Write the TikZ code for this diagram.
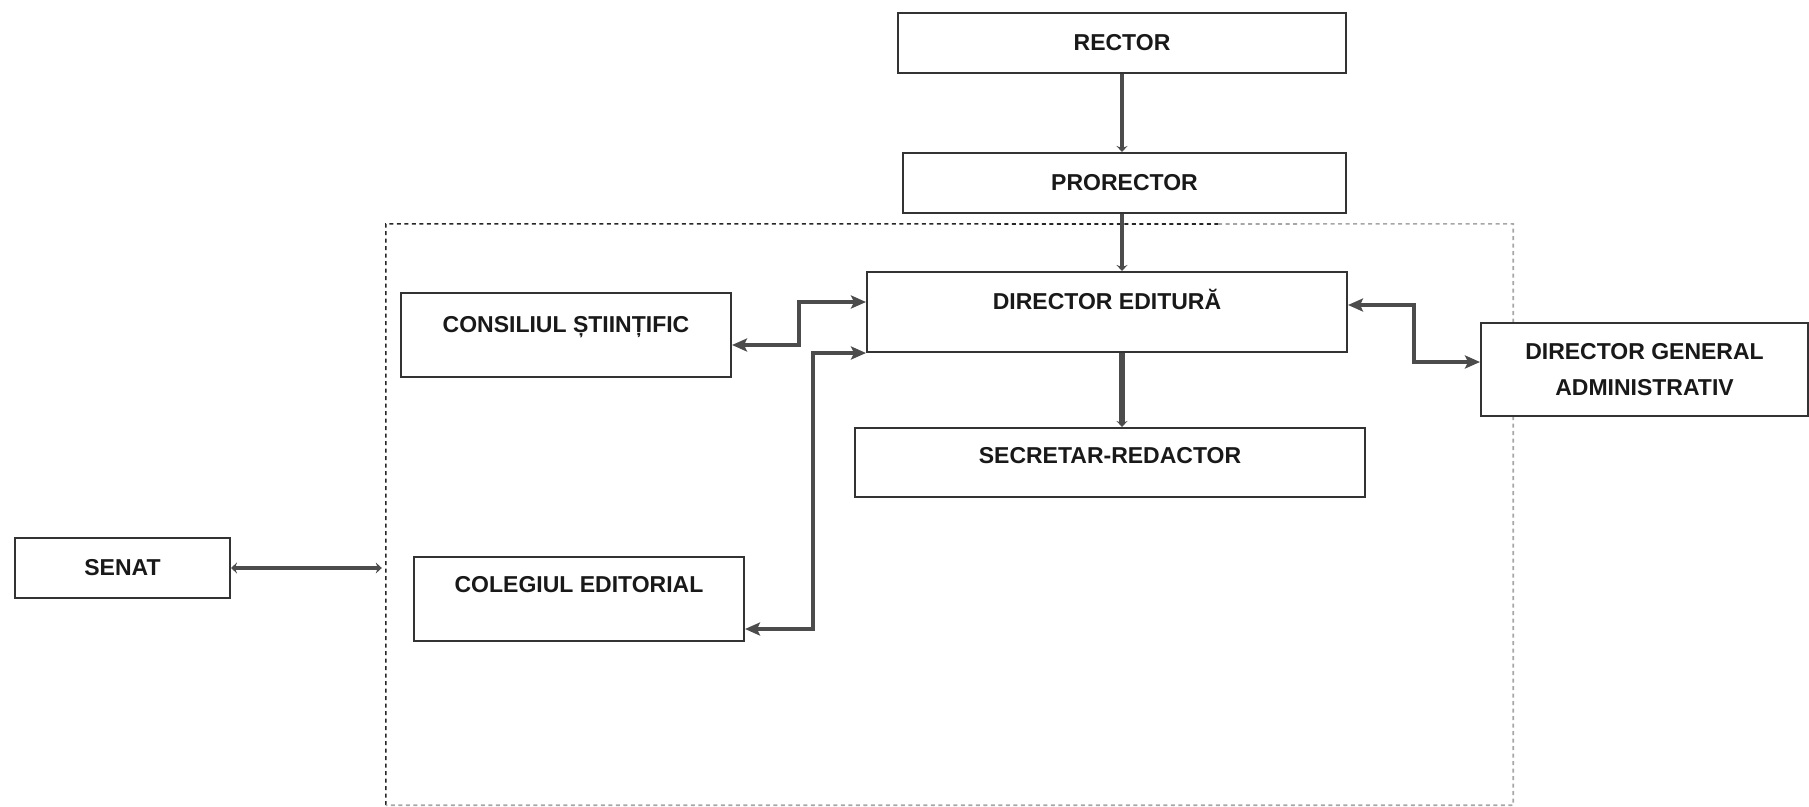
\documentclass[tikz,border=0pt]{standalone}
\usepackage{fontspec}
\setmainfont{Liberation Sans}
\usetikzlibrary{arrows.meta}

\begin{document}
\begin{tikzpicture}[x=1pt,y=-1pt,
  box/.style={draw=black!80, line width=2pt, fill=white, inner sep=0pt, text=black!90,
    font=\bfseries\fontsize{23}{36}\selectfont},
  txtup/.style={text height=16.5pt, text depth=#1},
  stub/.tip={Stealth[length=6pt,width=11pt]},
  big/.tip={Stealth[length=15pt,width=13pt,inset=3pt]},
  link/.style={draw=black!70, line width=3.5pt, big-big},
  vline/.style={draw=black!70, line width=#1, -stub},
  frame/.style={line width=1.6pt, dash pattern=on 4pt off 3.5pt}]

\useasboundingbox (0,0) rectangle (1809,806);

% top of the chain
\node[box, minimum width=448pt, minimum height=60pt] (rector) at (1122,43) {RECTOR};
\node[box, minimum width=443pt, minimum height=60pt] (prorector) at (1124.5,183) {PRORECTOR};

% the publishing house (dashed frame)
\node[minimum width=1127pt, minimum height=581pt, inner sep=0pt] (editura) at (949.5,514.5) {};
\coordinate (split) at (1218,224);
\draw[frame, draw=black!85] (editura.south west) -- (editura.north west) -- (split);
\draw[frame, draw=black!35] (split) -- (editura.north east) -- (editura.south east) -- (editura.south west);

% boxes inside the frame
\node[box, txtup=22pt, minimum width=480pt, minimum height=80pt] (director) at (1107,312) {DIRECTOR EDITURĂ};
\node[box, txtup=21pt, minimum width=330pt, minimum height=84pt] (consiliu) at (566,335) {CONSILIUL ȘTIINȚIFIC};
\node[box, txtup=14pt, minimum width=510pt, minimum height=69pt] (secretar) at (1110,462.5) {SECRETAR-REDACTOR};
\node[box, txtup=30pt, minimum width=330pt, minimum height=84pt] (colegiu) at (579,599) {COLEGIUL EDITORIAL};

% outside the frame
\node[box, minimum width=215pt, minimum height=60pt] (senat) at (122.5,568) {SENAT};
\node[box, align=center, minimum width=327pt, minimum height=93pt] (dga) at (1644.5,369.5) {DIRECTOR GENERAL\\ADMINISTRATIV};

% vertical links
\draw[vline=4pt] (rector.south) -- (prorector.north -| rector.south);
\draw[vline=4pt] (prorector.south -| rector.south) -- (director.north -| rector.south);
\draw[vline=6pt] (director.south -| rector.south) -- (secretar.north -| rector.south);

% links to the director
\draw[link] ([yshift=-10pt]consiliu.east) -- ++(67,0) |- ([yshift=10pt]director.west);
\draw[link] ([yshift=-30pt]colegiu.east) -- ++(68,0) |- (director.south west);
\draw[link] ([yshift=7pt]director.east) -- ++(66,0) |- ([yshift=7.5pt]dga.west);

% senat to the frame
\draw[vline=4pt, stub-stub, shorten >=4pt] (senat.east) -- (senat.east -| editura.west);

\end{tikzpicture}
\end{document}
